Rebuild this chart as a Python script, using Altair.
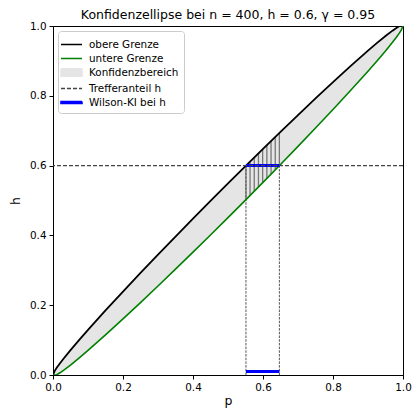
import altair as alt
import pandas as pd

# ---- data ----
p_grid = [0.0, 0.005, 0.01, 0.02, 0.03, 0.05, 0.075, 0.1, 0.15, 0.2, 0.25, 0.3, 0.35, 0.4,
          0.45, 0.5, 0.55, 0.6, 0.65, 0.7, 0.75, 0.8, 0.85, 0.9, 0.925, 0.95, 0.97, 0.98,
          0.99, 0.995, 1.0]
upper_vals = [0.0, 0.0119, 0.0198, 0.0337, 0.0467, 0.0714, 0.1008, 0.1294, 0.185, 0.2392,
              0.2924, 0.3449, 0.3967, 0.448, 0.4988, 0.549, 0.5988, 0.648, 0.6967, 0.7449,
              0.7924, 0.8392, 0.885, 0.9294, 0.9508, 0.9714, 0.9867, 0.9937, 0.9998, 1.0, 1.0]
lower_vals = [0.0, 0.0, 0.0002, 0.0063, 0.0133, 0.0286, 0.0492, 0.0706, 0.115, 0.1608,
              0.2076, 0.2551, 0.3033, 0.352, 0.4012, 0.451, 0.5012, 0.552, 0.6033, 0.6551,
              0.7076, 0.7608, 0.815, 0.8706, 0.8992, 0.9286, 0.9533, 0.9663, 0.9803, 0.9881, 1.0]

h_value = 0.6
wilson_lo = 0.5513
wilson_hi = 0.6468
wilson_bottom_y = 0.01

hatch_p = [0.5513, 0.563, 0.575, 0.587, 0.599, 0.611, 0.623, 0.635, 0.6468]
hatch_low = [0.5025, 0.5144, 0.5266, 0.5387, 0.551, 0.5632, 0.5755, 0.5878, 0.6]
hatch_high = [0.6001, 0.6116, 0.6234, 0.6353, 0.647, 0.6588, 0.6705, 0.6822, 0.6936]

x_ticks = [0.0, 0.2, 0.4, 0.6, 0.8, 1.0]
y_ticks = [0.0, 0.2, 0.4, 0.6, 0.8, 1.0]

legend_labels = ["obere Grenze", "untere Grenze", "Konfidenzbereich", "Trefferanteil h", "Wilson-KI bei h"]
legend_colors = ["black", "green", "#e5e5e5", "#444444", "blue"]
legend_shapes = ["M-1.4,0H1.4", "M-1.4,0H1.4", "M-1.4,-0.5H1.4V0.5H-1.4Z",
                 "M-1.4,0H1.4", "M-1.4,-0.12H1.4V0.12H-1.4Z"]
legend_dashes = [[1, 0], [1, 0], [1, 0], [4, 2], [1, 0]]

FONT = "DejaVu Sans"

curve_df = pd.DataFrame({"p": p_grid, "upper": upper_vals, "lower": lower_vals})
hatch_df = pd.DataFrame({"p": hatch_p, "lo": hatch_low, "hi": hatch_high})
wil_df = pd.DataFrame({"p": [wilson_lo], "p2": [wilson_hi], "h": [h_value], "hb": [wilson_bottom_y]})
vl_df = pd.DataFrame({"p": [wilson_lo, wilson_hi], "y0": [0.0, 0.0], "y1": [h_value, h_value]})
hline_df = pd.DataFrame({"h": [h_value]})
legend_df = pd.DataFrame({"label": legend_labels})

xscale = alt.Scale(domain=[0, 1], nice=False, zero=False)
yscale = alt.Scale(domain=[0, 1], nice=False, zero=False)

xaxis = alt.Axis(values=x_ticks, format=".1f", title="p", grid=False, tickSize=4,
                 labelPadding=3, labelFlush=False, labelOverlap=False, titlePadding=2)
yaxis = alt.Axis(values=y_ticks, format=".1f", title="h", grid=False, tickSize=4,
                 labelPadding=3, labelFlush=False, labelOverlap=False, titlePadding=7)

base = alt.Chart(curve_df)

area = base.mark_area(color="#e5e5e5", clip=True).encode(
    x=alt.X("p:Q", scale=xscale, axis=xaxis),
    y=alt.Y("lower:Q", scale=yscale, axis=yaxis),
    y2="upper:Q",
)

hatch = alt.Chart(hatch_df).mark_rule(color="#777777", strokeWidth=1.3).encode(
    x="p:Q", y="lo:Q", y2="hi:Q"
)

vlines = alt.Chart(vl_df).mark_rule(color="#555555", strokeWidth=1, strokeDash=[2.5, 1.2]).encode(
    x="p:Q", y="y0:Q", y2="y1:Q"
)

upper_line = base.mark_line(color="black", strokeWidth=1.8, clip=True).encode(x="p:Q", y="upper:Q")
lower_line = base.mark_line(color="green", strokeWidth=1.6, clip=True).encode(x="p:Q", y="lower:Q")

wil_top = alt.Chart(wil_df).mark_rule(color="blue", strokeWidth=3).encode(x="p:Q", x2="p2:Q", y="h:Q")
wil_bot = alt.Chart(wil_df).mark_rule(color="blue", strokeWidth=3).encode(x="p:Q", x2="p2:Q", y="hb:Q")

hline = alt.Chart(hline_df).mark_rule(color="#444444", strokeWidth=1.2, strokeDash=[4, 2]).encode(y="h:Q")

leg = alt.Legend(title=None, orient="top-left", offset=5)
legend_layer = alt.Chart(legend_df).mark_point(size=225, opacity=1, strokeWidth=1.6).encode(
    shape=alt.Shape("label:N", scale=alt.Scale(domain=legend_labels, range=legend_shapes), legend=leg),
    stroke=alt.Stroke("label:N", scale=alt.Scale(domain=legend_labels, range=legend_colors), legend=leg),
    fill=alt.Fill("label:N", scale=alt.Scale(domain=legend_labels, range=legend_colors), legend=leg),
    strokeDash=alt.StrokeDash("label:N", scale=alt.Scale(domain=legend_labels, range=legend_dashes), legend=leg),
).transform_filter("false")

chart = alt.layer(
    area, hatch, vlines, upper_line, lower_line, wil_top, wil_bot, hline, legend_layer
).properties(
    width=350,
    height=349,
    padding={"left": 45, "top": 18, "right": 9, "bottom": 35},
    autosize=alt.AutoSizeParams(type="none"),
    title=alt.TitleParams(
        "Konfidenzellipse bei n = 400, h = 0.6, γ = 0.95",
        font=FONT, fontSize=12.5, fontWeight="normal", color="black", anchor="middle",
        offset=0,
    ),
).configure_view(
    stroke="black", strokeWidth=1
).configure_axis(
    labelFont=FONT, labelFontSize=10.4, labelColor="black",
    titleFont=FONT, titleFontSize=12.5, titleFontWeight="normal", titleColor="black",
    domainColor="black", tickColor="black", domainWidth=1, tickWidth=1,
).configure_legend(
    labelFont=FONT, labelFontSize=10.4, labelColor="black",
    fillColor="white", strokeColor="#cccccc", cornerRadius=3, padding=5,
    symbolSize=225, rowPadding=0, labelOffset=9, symbolStrokeWidth=1.6,
)

chart.save("out.html", embed_options={"renderer": "svg", "actions": False})
